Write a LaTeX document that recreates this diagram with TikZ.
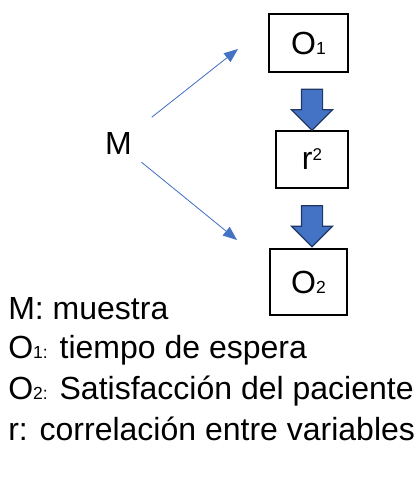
\documentclass[tikz,border=0pt]{standalone}
\usepackage{fontspec}
\setmainfont{Liberation Sans}
\usetikzlibrary{arrows.meta,shapes.arrows,positioning}
\definecolor{ofblue}{HTML}{4472C4}
\definecolor{ofdark}{HTML}{203864}
\newcommand{\subi}[1]{{\fontsize{17.5}{17.5}\selectfont #1}}
\newcommand{\supi}[1]{\raisebox{9pt}{\fontsize{17}{17}\selectfont #1}}

\begin{document}
\begin{tikzpicture}[x=1pt,y=-1pt,>={Triangle[length=14pt,width=11pt]},
                    semithick]
  \tikzstyle{every node}=[font=\fontsize{32}{38}\selectfont]
  \tikzstyle{box}=[rectangle,draw=black,line width=1.2pt,fill=white,inner sep=0pt]
  \tikzstyle{thin arrow}=[->,draw=ofblue,fill=ofblue,line width=0.8pt]
  \tikzstyle{blockarrow}=[single arrow,draw=ofdark,fill=ofblue,line width=1.2pt,
                          minimum height=41pt,minimum width=40pt,
                          single arrow head extend=10pt,inner sep=10pt,rotate=-90]
  \tikzstyle{legend}=[anchor=base west,inner sep=0pt]

  \useasboundingbox (0,0) rectangle (415,486);

  \node[inner sep=0pt] (m)  at (118.5,143.5)                        {M};
  \node[box,minimum width=79pt,minimum height=58pt] (o1) at (308.5,43)  {O\subi{1}};
  \node[box,minimum width=72pt,minimum height=57pt] (r2) at (312,159.5) {r\supi{2}};
  \node[box,minimum width=77pt,minimum height=66pt] (o2) at (308.5,282) {O\subi{2}};

  \node[blockarrow] (a1) at (312,104.5) {};
  \node[blockarrow] (a2) at (312,221)   {};

  \coordinate (t1) at (238,49);
  \coordinate (t2) at (237,240);
  \draw[thin arrow,shorten <=25pt] (m) -- (t1);
  \draw[thin arrow,shorten <=12pt] (m) -- (t2);

  \node[legend] (lm)  at (8,319) {M: muestra};
  \node[legend] (lo1) at (8,358) {O\subi{1:} tiempo de espera};
  \node[legend] (lo2) at (8,399) {O\subi{2:} Satisfacción del paciente};
  \node[legend] (lr)  at (8,440) {r: correlación entre variables};

\end{tikzpicture}
\end{document}
